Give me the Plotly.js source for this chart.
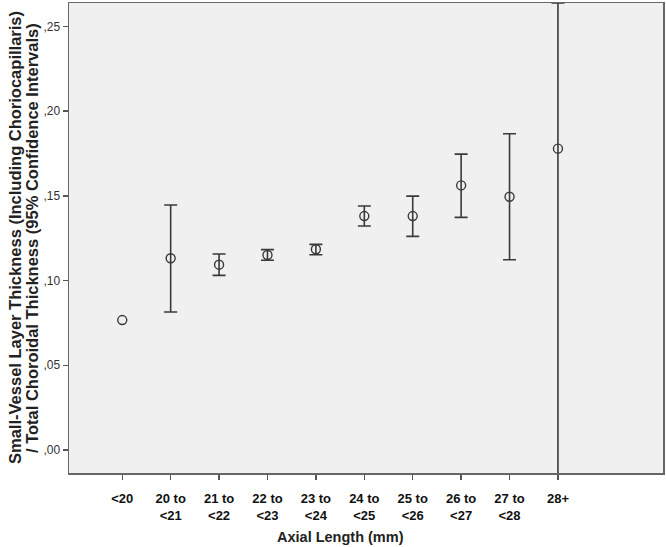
<!DOCTYPE html>
<html>
<head>
<meta charset="utf-8">
<script src="https://cdn.plot.ly/plotly-3.0.1.min.js"></script>
<style>html,body{margin:0;padding:0;background:#fff;}#chart{width:666px;height:547px;}</style>
</head>
<body>
<div id="chart"></div>
<script>
const categories = ["<20", "20 to<br><21", "21 to<br><22", "22 to<br><23", "23 to<br><24", "24 to<br><25", "25 to<br><26", "26 to<br><27", "27 to<br><28", "28+"];
const means = [0.0767, 0.1132, 0.1094, 0.1151, 0.1185, 0.1381, 0.1381, 0.1562, 0.1495, 0.1779];
const upperCI = [null, 0.1446, 0.1157, 0.1183, 0.1214, 0.1440, 0.1499, 0.1747, 0.1867, 0.2639];
const lowerCI = [null, 0.0815, 0.1031, 0.1120, 0.1153, 0.1322, 0.1261, 0.1373, 0.1123, -0.05];
const yTickVals = [0, 0.05, 0.10, 0.15, 0.20, 0.25];
const yTickText = [",00", ",05", ",10", ",15", ",20", ",25"];
const yTitleLines = ["Small-Vessel Layer Thickness (Including Choriocapillaris)", "/ Total Choroidal Thickness (95% Confidence Intervals)"];
const xTitle = "Axial Length (mm)";

const xIdx = categories.map((c, i) => i);
const ciIdx = xIdx.filter(i => upperCI[i] !== null);

const ciTrace = {
  x: ciIdx,
  y: ciIdx.map(i => means[i]),
  type: "scatter",
  mode: "markers",
  marker: {size: 1, opacity: 0},
  error_y: {
    type: "data", symmetric: false,
    array: ciIdx.map(i => upperCI[i] - means[i]),
    arrayminus: ciIdx.map(i => means[i] - lowerCI[i]),
    color: "#3a3a3a", thickness: 1.6, width: 6.5
  },
  cliponaxis: true,
  hoverinfo: "skip"
};

const meanTrace = {
  x: xIdx,
  y: means,
  type: "scatter",
  mode: "markers",
  marker: {symbol: "circle-open", size: 9, color: "#3a3a3a", line: {width: 1.4, color: "#3a3a3a"}},
  cliponaxis: true,
  hoverinfo: "y"
};

const layout = {
  width: 666, height: 547,
  margin: {l: 69, r: 3, t: 3, b: 74},
  paper_bgcolor: "#ffffff",
  plot_bgcolor: "#f0f0f0",
  showlegend: false,
  font: {family: "Liberation Sans, Arial, sans-serif", color: "#222"},
  xaxis: {
    range: [-1.1, 11.17],
    tickmode: "array", tickvals: xIdx, ticktext: categories.map(c => "<b>" + c + "</b>"),
    ticks: "outside", ticklen: 5, tickwidth: 1.5, tickcolor: "#555",
    ticklabelstandoff: 8,
    tickfont: {size: 13, color: "#111"},
    showgrid: false, zeroline: false,
    showline: true, linecolor: "#666", linewidth: 1.5, mirror: true
  },
  yaxis: {
    range: [-0.0136, 0.2639],
    tickmode: "array", tickvals: yTickVals, ticktext: yTickText,
    ticks: "outside", ticklen: 5, tickwidth: 1.5, tickcolor: "#555",
    tickfont: {size: 12, color: "#333"},
    showgrid: false, zeroline: false,
    showline: true, linecolor: "#666", linewidth: 1.5, mirror: true
  },
  annotations: [
    {
      text: "<b>" + xTitle + "</b>",
      x: 4.5, xref: "x", y: 0, yref: "paper", yshift: -64,
      yanchor: "middle", xanchor: "center", showarrow: false,
      font: {size: 14.5, color: "#222"}
    },
    {
      text: "<b>" + yTitleLines[0] + "</b>", textangle: -90,
      x: 0, xref: "paper", xshift: -54, y: 0.5, yref: "paper",
      xanchor: "center", yanchor: "middle", showarrow: false,
      font: {size: 16.5, color: "#222"}
    },
    {
      text: "<b>" + yTitleLines[1] + "</b>", textangle: -90,
      x: 0, xref: "paper", xshift: -37, y: 0.5, yref: "paper",
      xanchor: "center", yanchor: "middle", showarrow: false,
      font: {size: 16.5, color: "#222"}
    }
  ]
};

Plotly.newPlot("chart", [ciTrace, meanTrace], layout, {displayModeBar: false, staticPlot: true});
</script>
</body>
</html>
